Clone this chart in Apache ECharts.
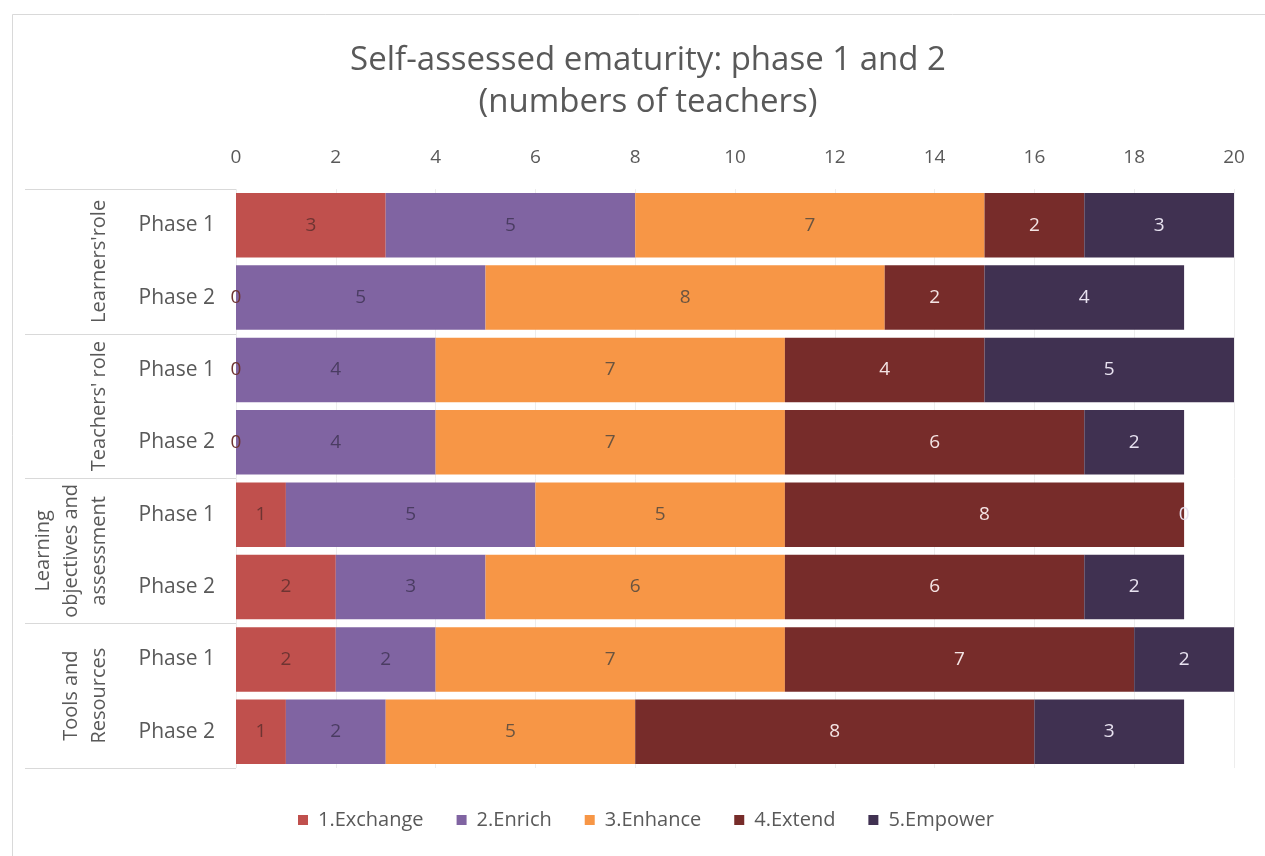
<!DOCTYPE html>
<html>
<head>
<meta charset="utf-8">
<script src="https://cdn.jsdelivr.net/npm/echarts@6/dist/echarts.min.js"></script>
<style>
html,body{margin:0;padding:0;background:#fff;}
#chart{width:1265px;height:856px;}
</style>
</head>
<body>
<div id="chart"></div>
<script>
// ---- data ----
const groups = ["Learners'role", "Teachers' role", "Learning\nobjectives and\nassessment", "Tools and\nResources"];
const rows = ["Phase 1", "Phase 2", "Phase 1", "Phase 2", "Phase 1", "Phase 2", "Phase 1", "Phase 2"];
const seriesNames = ["1.Exchange", "2.Enrich", "3.Enhance", "4.Extend", "5.Empower"];
const exchange = [3, 0, 0, 0, 1, 2, 2, 1];
const enrich   = [5, 5, 4, 4, 5, 3, 2, 2];
const enhance  = [7, 8, 7, 7, 5, 6, 7, 5];
const extend   = [2, 2, 4, 6, 8, 6, 7, 8];
const empower  = [3, 4, 5, 2, 0, 2, 2, 3];
const xTicks = { min: 0, max: 20, interval: 2 };

const values = [exchange, enrich, enhance, extend, empower];
const colors = ['#C0504D', '#8064A2', '#F79646', '#772C2A', '#403151'];
const labelColors = ['#6e3432', '#4a3c62', '#6a5440', '#f4e4e4', '#e8e2f0'];
const FONT = 'Open Sans, Noto Sans, sans-serif';

const chart = echarts.init(document.getElementById('chart'), null, { renderer: 'canvas' });
const option = {
  backgroundColor: '#ffffff',
  animation: false,
  textStyle: { fontFamily: FONT },
  title: {
    text: 'Self-assessed ematurity: phase 1 and 2\n(numbers of teachers)',
    left: 643,
    top: 35,
    textAlign: 'center',
    textStyle: { fontSize: 33, fontWeight: 'normal', color: '#595959', lineHeight: 42, fontFamily: FONT }
  },
  legend: {
    data: seriesNames,
    left: 293,
    top: 805,
    icon: 'rect',
    itemWidth: 10,
    itemHeight: 10,
    itemGap: 33,
    textStyle: { fontSize: 20, color: '#595959', fontFamily: FONT, padding: [0, 0, 0, 5] }
  },
  grid: { left: 236, right: 31, top: 189, bottom: 88, containLabel: false },
  xAxis: {
    type: 'value',
    position: 'top',
    min: xTicks.min, max: xTicks.max, interval: xTicks.interval,
    axisLine: { show: false },
    axisTick: { show: false },
    axisLabel: { fontSize: 19, color: '#595959', margin: 22 },
    splitLine: { show: true, lineStyle: { color: '#ededed', width: 1 } }
  },
  yAxis: [
    {
      type: 'category',
      data: rows,
      inverse: true,
      axisLine: { show: false },
      axisTick: { show: false },
      axisLabel: { fontSize: 21, color: '#595959', margin: 21 }
    },
    {
      type: 'category',
      data: groups,
      inverse: true,
      position: 'left',
      axisLine: { show: false },
      axisTick: { show: true, interval: 0, length: 211, lineStyle: { color: '#d9d9d9', width: 1 } },
      axisLabel: { interval: 0, rotate: 90, fontSize: 20, lineHeight: 28, color: '#595959', margin: 123 }
    }
  ],
  series: seriesNames.map((name, i) => ({
    name: name,
    type: 'bar',
    stack: 'total',
    yAxisIndex: 0,
    barCategoryGap: '11%',
    data: values[i],
    itemStyle: { color: colors[i] },
    label: { show: true, position: 'inside', fontSize: 19, color: labelColors[i], fontFamily: FONT }
  })),
  graphic: [
    { type: 'rect', left: 10, top: 12, shape: { width: 1280, height: 870 }, style: { fill: 'none', stroke: '#d9d9d9', lineWidth: 1 }, silent: true, z: -1 }
  ]
};
chart.setOption(option);
</script>
</body>
</html>
